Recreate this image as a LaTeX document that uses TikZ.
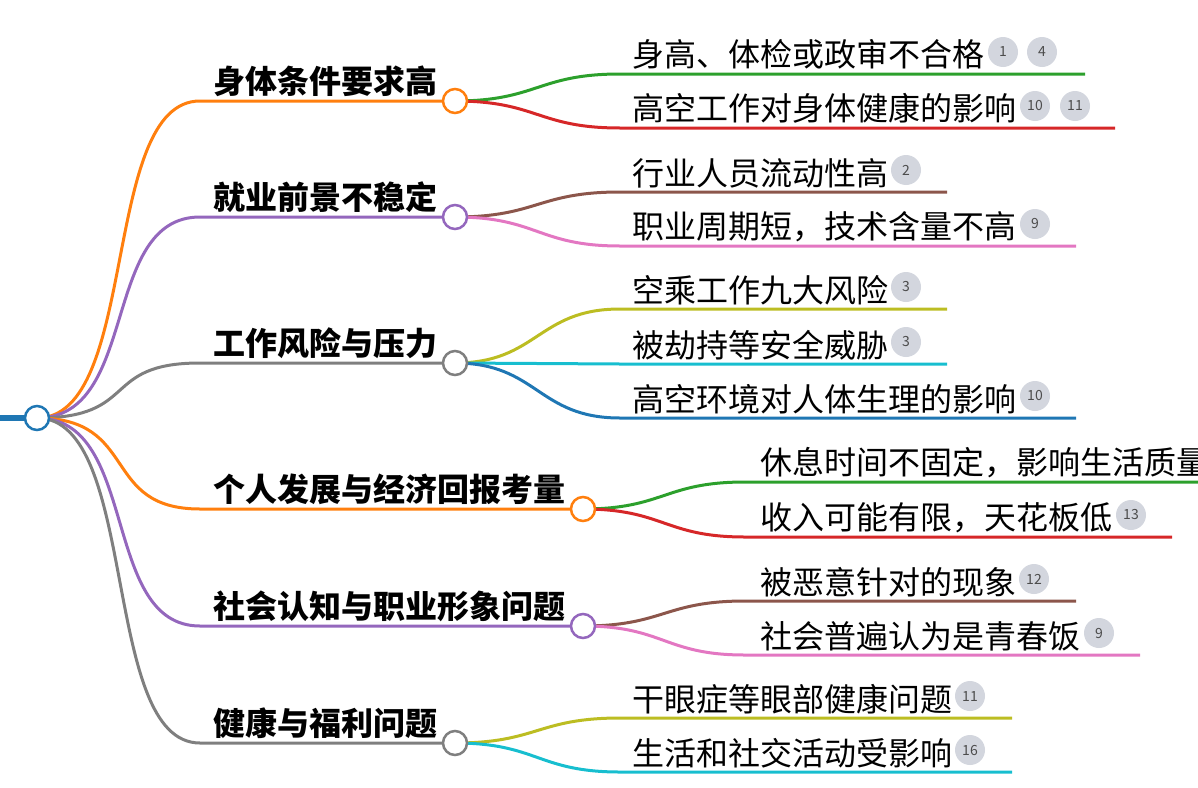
\documentclass[tikz,border=0pt]{standalone}
\usepackage{fontspec}
\setmainfont{Noto Sans CJK SC}
\definecolor{cor}{HTML}{FF7F0E}\definecolor{cpu}{HTML}{9467BD}\definecolor{cgy}{HTML}{7F7F7F}
\definecolor{cgr}{HTML}{2CA02C}\definecolor{crd}{HTML}{D62728}\definecolor{cbr}{HTML}{8C564B}
\definecolor{cpk}{HTML}{E377C2}\definecolor{col}{HTML}{BCBD22}\definecolor{ccy}{HTML}{17BECF}
\definecolor{cbl}{HTML}{1F77B4}\definecolor{cbg}{HTML}{D3D6DE}
\tikzset{
 ln/.style={line width=3pt},
 hub/.style={circle,draw,line width=2.5pt,fill=white,minimum size=24pt,inner sep=0pt},
 br/.style={anchor=south west,inner sep=0pt,font=\fontsize{32}{33}\selectfont\bfseries},
 lf/.style={anchor=south west,inner sep=0pt,font=\fontsize{32}{33}\selectfont},
 bd/.style={circle,fill=cbg,minimum size=30pt,inner sep=0pt,font=\fontsize{14}{14}\selectfont,text=black!70}
}
\begin{document}
\begin{tikzpicture}[x=1pt,y=-1pt]
\useasboundingbox (0,0) rectangle (1198,787);
\coordinate (r0) at (0,418);
\draw[cbl,line width=6pt] (r0) -- (30,418);
\foreach \n/\y/\xe/\c in {1/101/455/cor,2/217/455/cpu,3/363/455/cgy,4/509/583/cor,5/626/583/cpu,6/743/455/cgy}{
  \coordinate (b\n s) at (200,\y);
  \draw[\c,ln] (37,418) .. controls (140,418) and (100,\y) .. (b\n s) -- (\xe,\y);
}
\node[hub,draw=cbl] (root) at (37,418) {};
\node[br] (t1) at (213,97) {身体条件要求高};
\node[br] (t2) at (213,213) {就业前景不稳定};
\node[br] (t3) at (213,359) {工作风险与压力};
\node[br] (t4) at (213,505) {个人发展与经济回报考量};
\node[br] (t5) at (213,622) {社会认知与职业形象问题};
\node[br] (t6) at (213,739) {健康与福利问题};
\foreach \h/\hy/\y/\xs/\xe/\c in {455/101/74/620/1085/cgr,455/101/128/620/1115/crd,455/217/192/620/947/cbr,455/217/246/620/1076/cpk,
 455/363/309/620/947/col,455/363/364/620/947/ccy,455/363/418/620/1076/cbl,583/509/482/745/1198/cgr,583/509/537/745/1172/crd,
 583/626/601/745/1076/cbr,583/626/655/745/1140/cpk,455/743/718/620/1012/col,455/743/772/620/1012/ccy}{
  \draw[\c,ln] (\h,\hy) .. controls ({(\h+\xs)/2},\hy) and ({(\h+\xs)/2},\y) .. (\xs,\y) -- (\xe,\y);
}
\node[hub,draw=cor] (h1) at (455,101) {};
\node[hub,draw=cpu] (h2) at (455,217) {};
\node[hub,draw=cgy] (h3) at (455,363) {};
\node[hub,draw=cor] (h4) at (583,509) {};
\node[hub,draw=cpu] (h5) at (583,626) {};
\node[hub,draw=cgy] (h6) at (455,743) {};
\node[lf] (l1) at (632,70) {身高、体检或政审不合格};
\node[bd] at (1003,52) {1}; \node[bd] at (1042,52) {4};
\node[lf] (l2) at (632,124) {高空工作对身体健康的影响};
\node[bd] at (1035,106) {10}; \node[bd] at (1075,106) {11};
\node[lf] (l3) at (632,188) {行业人员流动性高};
\node[bd] at (906,170) {2};
\node[lf] (l4) at (632,242) {职业周期短，技术含量不高};
\node[bd] at (1035,224) {9};
\node[lf] (l5) at (632,305) {空乘工作九大风险};
\node[bd] at (906,287) {3};
\node[lf] (l6) at (632,360) {被劫持等安全威胁};
\node[bd] at (906,342) {3};
\node[lf] (l7) at (632,414) {高空环境对人体生理的影响};
\node[bd] at (1035,396) {10};
\node[lf] (l8) at (760,478) {休息时间不固定，影响生活质量};
\node[lf] (l9) at (760,533) {收入可能有限，天花板低};
\node[bd] at (1131,515) {13};
\node[lf] (l10) at (760,597) {被恶意针对的现象};
\node[bd] at (1034,579) {12};
\node[lf] (l11) at (760,651) {社会普遍认为是青春饭};
\node[bd] at (1099,633) {9};
\node[lf] (l12) at (632,714) {干眼症等眼部健康问题};
\node[bd] at (970,696) {11};
\node[lf] (l13) at (632,768) {生活和社交活动受影响};
\node[bd] at (970,750) {16};
\end{tikzpicture}
\end{document}
